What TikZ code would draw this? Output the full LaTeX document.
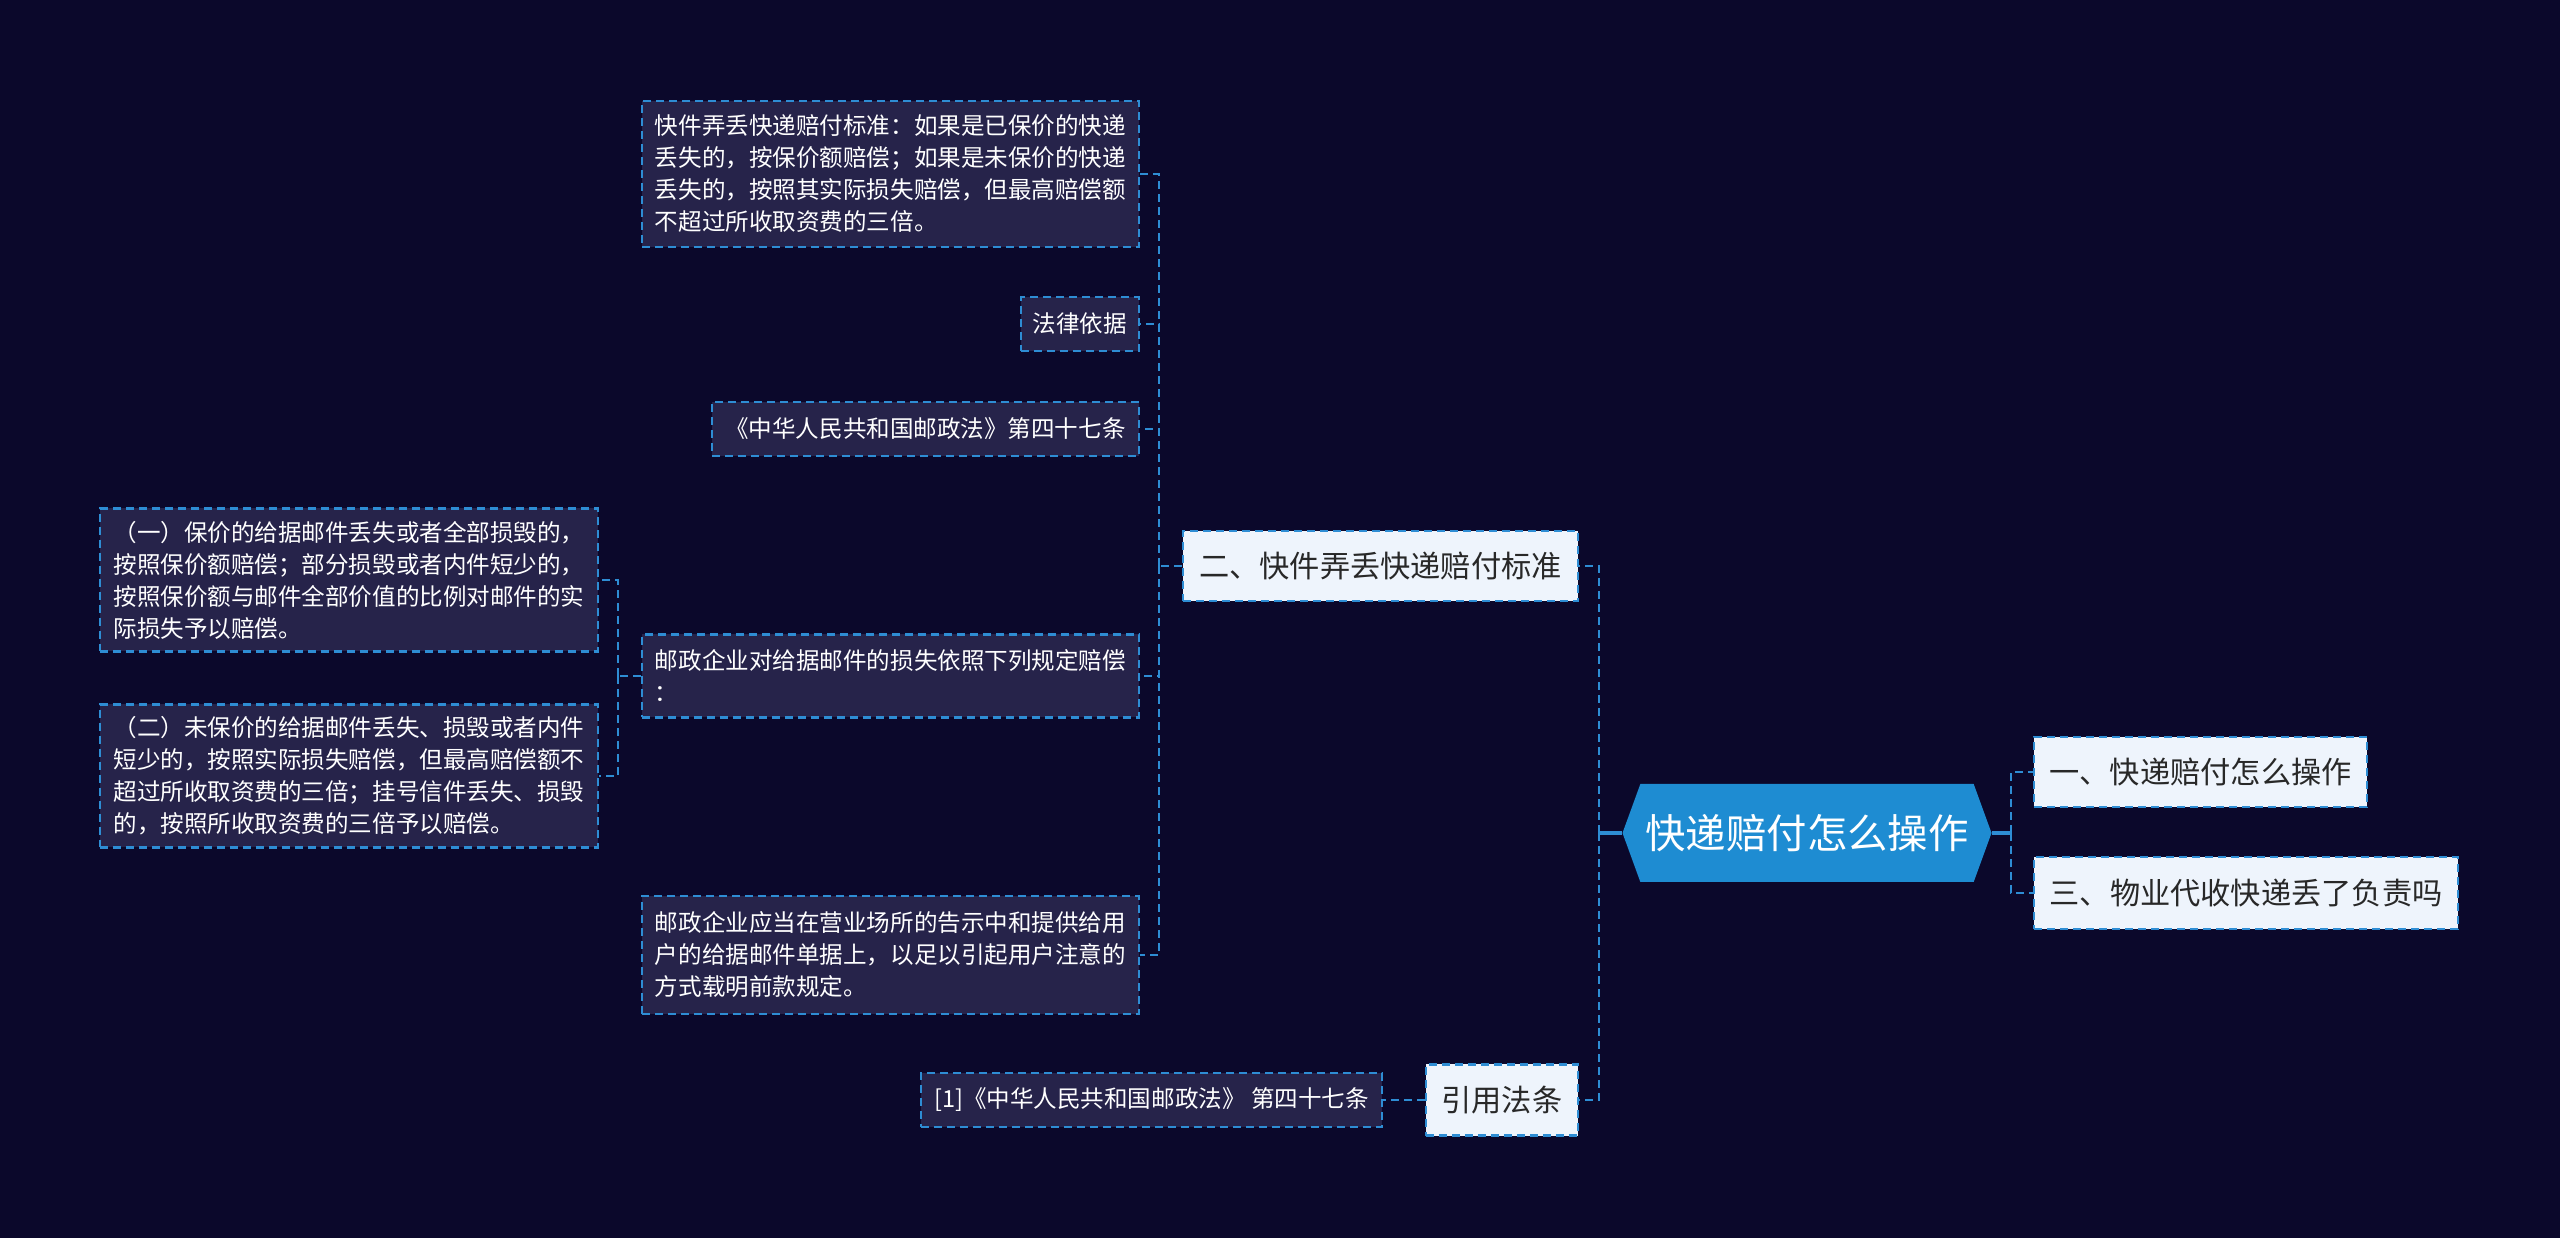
\documentclass[tikz,border=0pt]{standalone}
\usepackage{fontspec}
\setmainfont{Noto Sans CJK SC}
\usetikzlibrary{shapes.symbols}
\definecolor{bgnavy}{RGB}{11,8,43}
\definecolor{rootblue}{RGB}{30,140,210}
\definecolor{lineblue}{RGB}{46,141,212}
\definecolor{paleblue}{RGB}{238,244,252}
\definecolor{panelnavy}{RGB}{38,35,74}
\definecolor{inkgray}{RGB}{40,40,40}

\begin{document}
\begin{tikzpicture}[
    link/.style={draw=lineblue, line width=0.6pt, dash pattern=on 0.08cm off 0.05cm},
    stub/.style={draw=lineblue, line width=1.2pt},
    rootbox/.style={signal, signal to=west and east, signal pointer angle=140,
      fill=rootblue, text=white, font=\fontsize{11.5}{13}\selectfont,
      minimum width=3.69cm, minimum height=0.98cm, inner sep=0pt},
    mainbox/.style={fill=paleblue, draw=lineblue, line width=0.6pt,
      dash pattern=on 0.08cm off 0.05cm, text=inkgray,
      font=\fontsize{8.6}{10}\selectfont, minimum height=0.7cm, inner xsep=0.12cm},
    notebox/.style={fill=panelnavy, draw=lineblue, line width=0.6pt,
      dash pattern=on 0.08cm off 0.05cm, text=white,
      font=\fontsize{6.7}{9.1}\selectfont, align=left, inner xsep=0.1cm, inner ysep=0.1cm}
  ]
    %% background
    \fill[bgnavy] (0,0) rectangle (25.6,12.38);
    \useasboundingbox (0,0) rectangle (25.6,12.38);

    %% root
    \node[rootbox] (root) at (18.07,4.05) {快递赔付怎么操作};

    %% right branch
    \node[mainbox, anchor=west, minimum width=3.33cm] (q1) at (20.33,4.66) {一、快递赔付怎么操作};
    \node[mainbox, anchor=west, minimum width=4.24cm, minimum height=0.72cm] (q3) at (20.33,3.45) {三、物业代收快递丢了负责吗};

    %% left branch
    \node[mainbox, anchor=east, minimum width=3.95cm] (q2) at (15.79,6.72) {二、快件弄丢快递赔付标准};
    \node[mainbox, anchor=east, minimum width=1.52cm, minimum height=0.71cm] (cite) at (15.79,1.38) {引用法条};

    %% notes of q2
    \node[notebox, anchor=east, minimum width=4.97cm, minimum height=1.46cm] (rule) at (11.40,10.64)
      {快件弄丢快递赔付标准：如果是已保价的快递\\丢失的，按保价额赔偿；如果是未保价的快递\\丢失的，按照其实际损失赔偿，但最高赔偿额\\不超过所收取资费的三倍。};
    \node[notebox, anchor=east, minimum width=1.18cm, minimum height=0.54cm] (basis) at (11.40,9.14) {法律依据};
    \node[notebox, anchor=east, minimum width=4.27cm, minimum height=0.54cm] (law) at (11.40,8.09) {《中华人民共和国邮政法》第四十七条};
    \node[notebox, anchor=east, minimum width=4.97cm, minimum height=0.83cm] (claim) at (11.40,5.62)
      {邮政企业对给据邮件的损失依照下列规定赔偿\\：};
    \node[notebox, anchor=east, minimum width=4.97cm, minimum height=1.18cm] (notice) at (11.40,2.83)
      {邮政企业应当在营业场所的告示中和提供给用\\户的给据邮件单据上，以足以引起用户注意的\\方式载明前款规定。};

    %% items of claim
    \node[notebox, anchor=east, minimum width=4.98cm, minimum height=1.43cm] (item1) at (5.99,6.58)
      {（一）保价的给据邮件丢失或者全部损毁的，\\按照保价额赔偿；部分损毁或者内件短少的，\\按照保价额与邮件全部价值的比例对邮件的实\\际损失予以赔偿。};
    \node[notebox, anchor=east, minimum width=4.98cm, minimum height=1.43cm] (item2) at (5.99,4.62)
      {（二）未保价的给据邮件丢失、损毁或者内件\\短少的，按照实际损失赔偿，但最高赔偿额不\\超过所收取资费的三倍；挂号信件丢失、损毁\\的，按照所收取资费的三倍予以赔偿。};

    %% reference of cite
    \node[notebox, anchor=east, minimum width=4.61cm, minimum height=0.54cm] (cref) at (13.83,1.38)
      {[1]《中华人民共和国邮政法》 第四十七条};

    %% connectors
    \coordinate (lbus) at ([xshift=-0.23cm]root.west);
    \coordinate (rbus) at ([xshift=0.19cm]root.east);
    \draw[stub] (root.west) -- (lbus);
    \draw[stub] (root.east) -- (rbus);
    \draw[link] (lbus) |- (q2.east);
    \draw[link] (lbus) |- (cite.east);
    \draw[link] (rbus) |- (q1.west);
    \draw[link] (rbus) |- (q3.west);

    \coordinate (mbus) at ([xshift=-0.23cm]q2.west);
    \draw[link] (q2.west) -- (mbus);
    \foreach \n in {rule,basis,law,claim,notice}
      \draw[link] (mbus) |- (\n.east);

    \coordinate (sbus) at ([xshift=-0.23cm]claim.west);
    \draw[link] (claim.west) -- (sbus);
    \foreach \n in {item1,item2}
      \draw[link] (sbus) |- (\n.east);

    \draw[link] (cite.west) -- (cref.east);
  \end{tikzpicture}
\end{document}
